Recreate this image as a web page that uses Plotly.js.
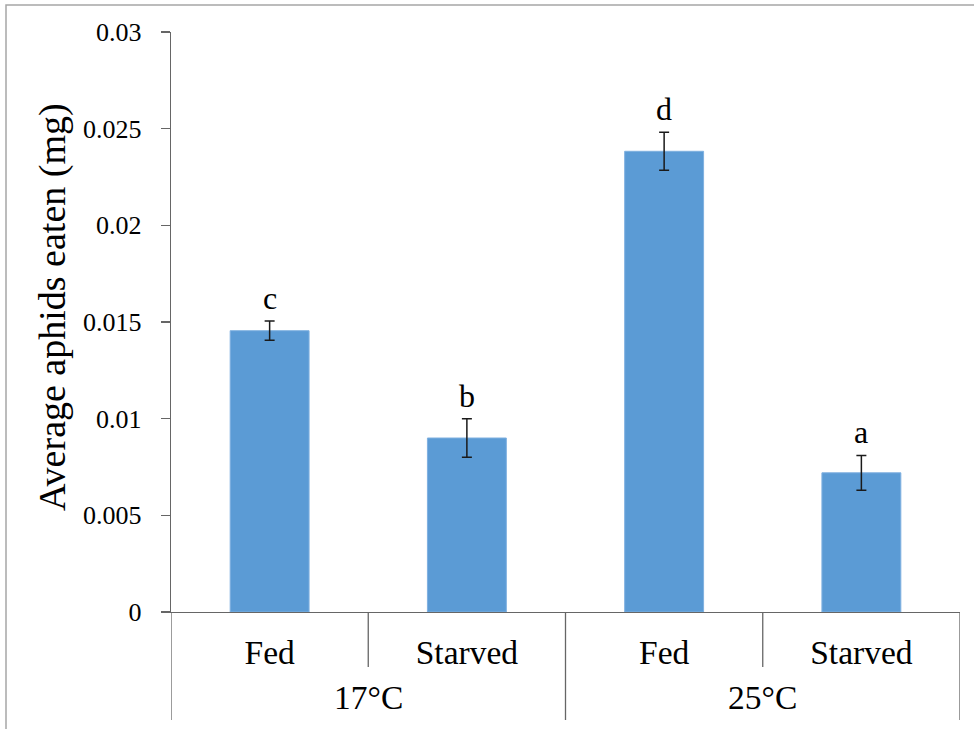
<!DOCTYPE html>
<html>
<head>
<meta charset="utf-8">
<script src="https://cdn.plot.ly/plotly-3.0.1.min.js"></script>
<style>
  html, body { margin: 0; padding: 0; background: #fff; }
  #chart { width: 974px; height: 729px; }
</style>
</head>
<body>
<div id="chart"></div>
<script>
// ---- data ----
const temperatures = ["17°C", "17°C", "25°C", "25°C"];
const treatments = ["Fed", "Starved", "Fed", "Starved"];
const groupLabels = ["17°C", "25°C"];
const meanEaten = [0.01455, 0.00900, 0.02383, 0.00720];
const stdErr = [0.00050, 0.00100, 0.00098, 0.00090];
const letters = ["c", "b", "d", "a"];
const yTicks = [0, 0.005, 0.01, 0.015, 0.02, 0.025, 0.03];
const yTickText = ["0", "0.005", "0.01", "0.015", "0.02", "0.025", "0.03"];

const FONT = '"Liberation Serif", "Times New Roman", Times, serif';
const AXIS = '#666666';

const xIdx = treatments.map((_, i) => i);

const trace = {
  type: 'bar',
  x: xIdx,
  y: meanEaten,
  marker: { color: '#5B9BD5', line: { color: '#7FB0E0', width: 1 } },
  error_y: { type: 'data', array: stdErr, visible: true, color: '#1a1a1a', thickness: 1.5, width: 5 },
  hoverinfo: 'skip'
};

const W = 974, H = 729;
const M = { l: 171, r: 14, t: 32, b: 117 };
const PW = W - M.l - M.r, PH = H - M.t - M.b;
const px2x = px => (px - M.l) / PW;
const px2y = py => (H - M.b - py) / PH;

const annotations = [];
letters.forEach((t, i) => {
  annotations.push({
    x: i, y: meanEaten[i] + stdErr[i], xref: 'x', yref: 'y',
    text: t, showarrow: false, yanchor: 'bottom', yshift: 3,
    font: { family: FONT, size: 32, color: '#000' }
  });
});
groupLabels.forEach((g, k) => {
  annotations.push({
    x: 2 * k + 0.5, y: px2y(697), xref: 'x', yref: 'paper',
    text: g, showarrow: false, yanchor: 'middle',
    font: { family: FONT, size: 33.5, color: '#000' }
  });
});
annotations.push({
  x: px2x(52), y: px2y(307), xref: 'paper', yref: 'paper',
  text: 'Average aphids eaten (mg)', showarrow: false, textangle: -90,
  xanchor: 'center', yanchor: 'middle',
  font: { family: FONT, size: 38, color: '#000' }
});

const shapes = [];
// outer dividers
[-0.5, 1.5, 3.5].forEach(xv => shapes.push({
  type: 'line', xref: 'x', yref: 'paper', x0: xv, x1: xv, y0: 0, y1: px2y(720),
  line: { color: AXIS, width: 1.3 }
}));
// inner dividers
[0.5, 2.5].forEach(xv => shapes.push({
  type: 'line', xref: 'x', yref: 'paper', x0: xv, x1: xv, y0: 0, y1: px2y(667),
  line: { color: AXIS, width: 1.3 }
}));
// image frame (left & top)
shapes.push({
  type: 'rect', xref: 'paper', yref: 'paper',
  x0: px2x(6), x1: px2x(990), y0: px2y(745), y1: px2y(5),
  line: { color: '#a6a6a6', width: 1.5 }, fillcolor: 'rgba(0,0,0,0)', layer: 'below'
});

const layout = {
  width: W, height: H,
  margin: M,
  paper_bgcolor: '#fff', plot_bgcolor: '#fff',
  showlegend: false,
  bargap: 0.6,
  font: { family: FONT, color: '#000' },
  xaxis: {
    range: [-0.5, 3.5], tickmode: 'array', tickvals: xIdx, ticktext: treatments,
    showline: true, linecolor: AXIS, linewidth: 1.3, ticks: '', showgrid: false, zeroline: false,
    tickfont: { family: FONT, size: 33.5, color: '#000' }, ticklabelstandoff: 10, fixedrange: true
  },
  yaxis: {
    range: [0, 0.03], tickmode: 'array', tickvals: yTicks, ticktext: yTickText,
    showline: true, linecolor: AXIS, linewidth: 1.3, ticks: 'outside', ticklen: 9, tickcolor: AXIS, tickwidth: 1.3,
    showgrid: false, zeroline: false,
    tickfont: { family: FONT, size: 26, color: '#000' }, ticklabelstandoff: 14, fixedrange: true
  },
  annotations: annotations,
  shapes: shapes
};

Plotly.newPlot('chart', [trace], layout, { displayModeBar: false, staticPlot: true });
</script>
</body>
</html>
